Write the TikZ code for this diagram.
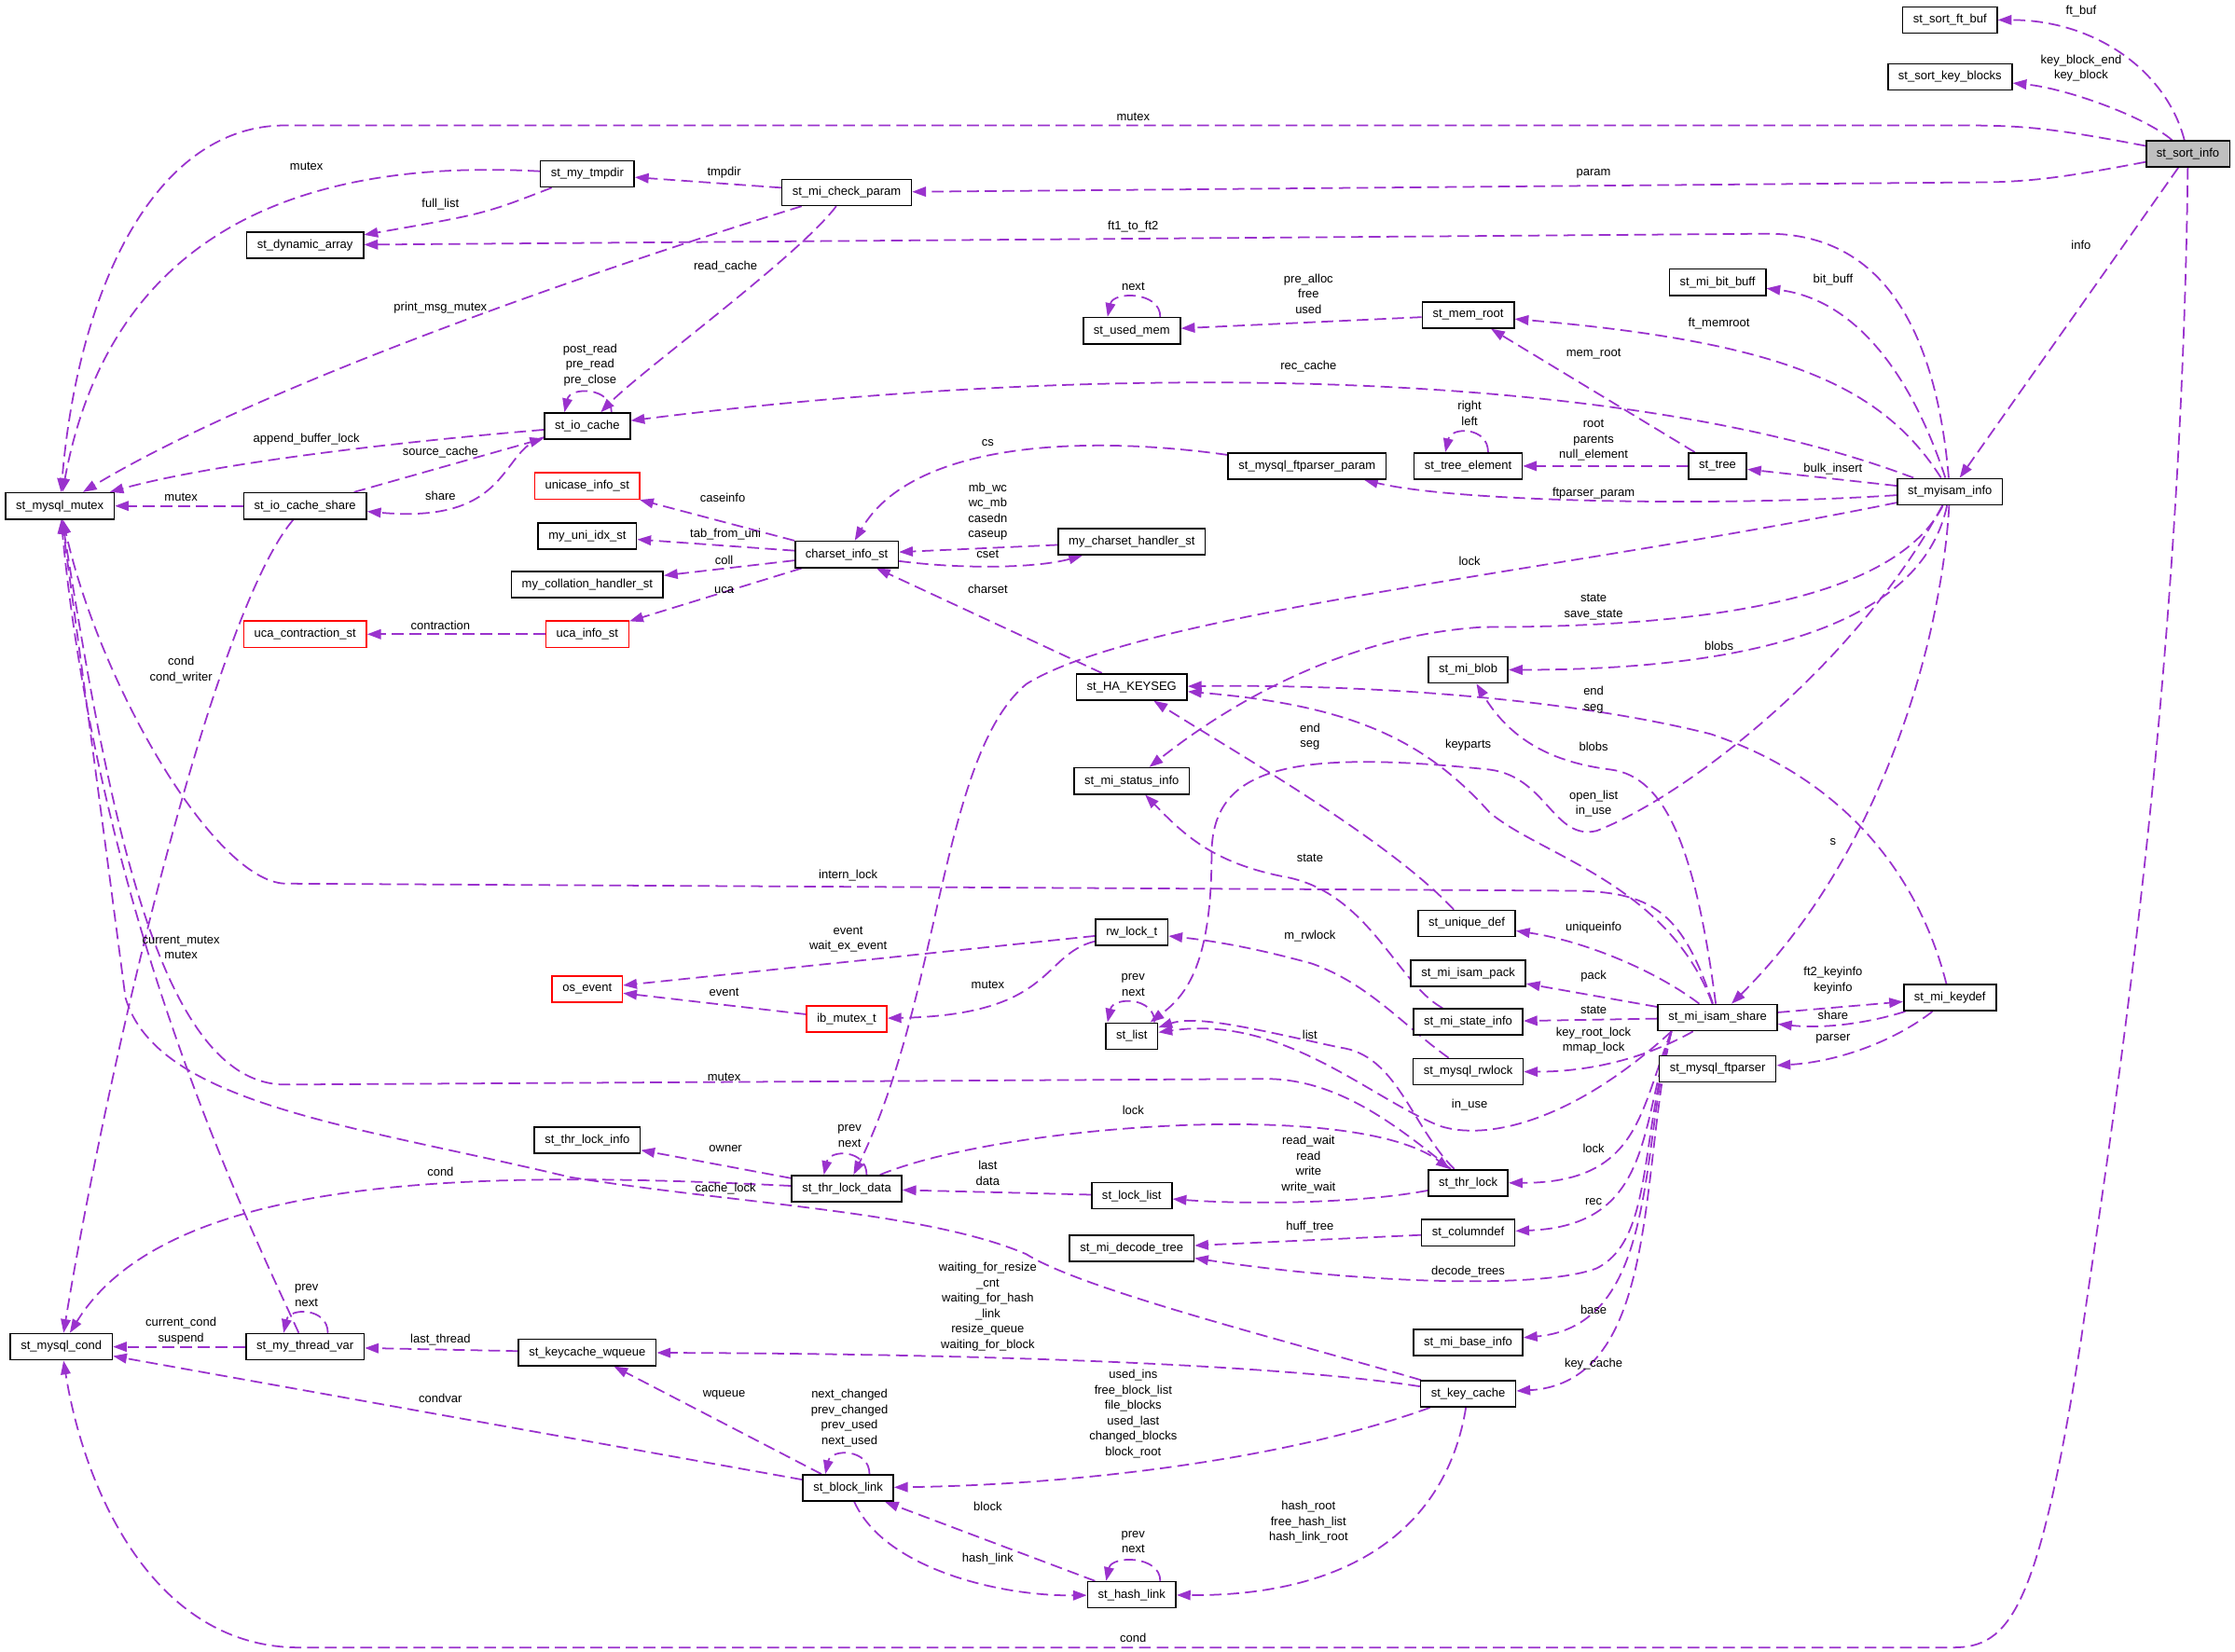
\documentclass[tikz,border=0pt]{standalone}
\usepackage{fontspec}
\setmainfont{Liberation Sans}
\usetikzlibrary{arrows.meta,calc}
\definecolor{orchid}{HTML}{9A32CD}
\definecolor{mainbox}{HTML}{BFBFBF}
\pgfdeclarelayer{edges}
\pgfsetlayers{edges,main}

\begin{document}
\begin{tikzpicture}[x=0.15287mm,y=-0.15287mm,
 n/.style={draw=black,line width=.45pt,fill=white,font=\fontsize{3.7}{4.5}\selectfont,inner xsep=3.2pt,inner ysep=0pt,minimum height=8pt},
 nr/.style={n,draw=red},
 lab/.style={font=\fontsize{3.7}{4.7}\selectfont,align=center,inner sep=0pt},
 a/.style={-{Triangle[length=4.2pt,width=3pt]},draw=orchid,line width=.5pt,dash pattern=on 3.6pt off 1.8pt}]
\useasboundingbox (0,0) rectangle (1568,1159);

% structs
\node[n] (sortftbuf) at (1368,14) {st\_sort\_ft\_buf};
\node[n] (sortkeyblocks) at (1368,54) {st\_sort\_key\_blocks};
\node[n,fill=mainbox] (sortinfo) at (1535,108) {st\_sort\_info};
\node[n] (mytmpdir) at (412,122) {st\_my\_tmpdir};
\node[n] (checkparam) at (594,135) {st\_mi\_check\_param};
\node[n] (dynarray) at (214,172) {st\_dynamic\_array};
\node[n] (usedmem) at (794,232) {st\_used\_mem};
\node[n] (memroot) at (1030,221) {st\_mem\_root};
\node[n] (bitbuff) at (1205,198) {st\_mi\_bit\_buff};
\node[n] (iocache) at (412,299) {st\_io\_cache};
\node[n] (mutex) at (42,355) {st\_mysql\_mutex};
\node[n] (iocacheshare) at (214,355) {st\_io\_cache\_share};
\node[nr] (unicase) at (412,341) {unicase\_info\_st};
\node[n] (uniidx) at (412,376) {my\_uni\_idx\_st};
\node[n] (collhandler) at (412,410) {my\_collation\_handler\_st};
\node[nr] (ucacontr) at (214,445) {uca\_contraction\_st};
\node[nr] (ucainfo) at (412,445) {uca\_info\_st};
\node[n] (charsetinfo) at (594,389) {charset\_info\_st};
\node[n] (charsethandler) at (794,380) {my\_charset\_handler\_st};
\node[n] (ftparam) at (917,327) {st\_mysql\_ftparser\_param};
\node[n] (treeelem) at (1030,327) {st\_tree\_element};
\node[n] (tree) at (1205,327) {st\_tree};
\node[n] (myisaminfo) at (1368,345) {st\_myisam\_info};
\node[n] (hakeyseg) at (794,482) {st\_HA\_KEYSEG};
\node[n] (miblob) at (1030,470) {st\_mi\_blob};
\node[n] (statusinfo) at (794,548) {st\_mi\_status\_info};
\node[nr] (osevent) at (412,694) {os\_event};
\node[n] (rwlock) at (794,654) {rw\_lock\_t};
\node[nr] (ibmutex) at (594,715) {ib\_mutex\_t};
\node[n] (stlist) at (794,727) {st\_list};
\node[n] (uniquedef) at (1029,648) {st\_unique\_def};
\node[n] (isampack) at (1030,683) {st\_mi\_isam\_pack};
\node[n] (stateinfo) at (1030,717) {st\_mi\_state\_info};
\node[n] (mysqlrwlock) at (1030,752) {st\_mysql\_rwlock};
\node[n] (isamshare) at (1205,714) {st\_mi\_isam\_share};
\node[n] (keydef) at (1368,700) {st\_mi\_keydef};
\node[n] (ftparser) at (1205,750) {st\_mysql\_ftparser};
\node[n] (thrlockinfo) at (412,800) {st\_thr\_lock\_info};
\node[n] (thrlockdata) at (594,834) {st\_thr\_lock\_data};
\node[n] (locklist) at (794,839) {st\_lock\_list};
\node[n] (thrlock) at (1030,830) {st\_thr\_lock};
\node[n] (columndef) at (1030,865) {st\_columndef};
\node[n] (decodetree) at (794,876) {st\_mi\_decode\_tree};
\node[n] (baseinfo) at (1030,942) {st\_mi\_base\_info};
\node[n] (keycache) at (1030,978) {st\_key\_cache};
\node[n] (cond) at (43,945) {st\_mysql\_cond};
\node[n] (threadvar) at (214,945) {st\_my\_thread\_var};
\node[n] (wqueue) at (412,949) {st\_keycache\_wqueue};
\node[n] (blocklink) at (595,1044) {st\_block\_link};
\node[n] (hashlink) at (794,1119) {st\_hash\_link};

\begin{pgfonlayer}{edges}
\fill[white] (0,0) rectangle (1568,1159);
% st_sort_info
\draw[a] (sortinfo) .. controls (1520,50) and (1470,14) .. (sortftbuf);
\draw[a] (sortinfo) .. controls (1505,82) and (1450,62) .. (sortkeyblocks);
\draw[a] (sortinfo) .. controls (1440,90) and (1420,88) .. (1378,88) -- (200,88) .. controls (110,88) and (55,200) .. (mutex);
\draw[a] (sortinfo) .. controls (1440,126) and (1420,128) .. (1378,128) -- (checkparam);
\draw[a] (sortinfo) -- (myisaminfo);
\draw[a] (sortinfo) .. controls (1530,500) and (1480,800) .. (1460,940) .. controls (1430,1130) and (1410,1156) .. (1370,1156) -- (210,1156) .. controls (110,1156) and (60,1050) .. (cond);
\draw[a] (checkparam) -- (mytmpdir);
\draw[a] (checkparam) .. controls (480,170) and (200,260) .. (mutex);
\draw[a] (checkparam) .. controls (560,180) and (450,260) .. (iocache);
\draw[a] (mytmpdir) .. controls (230,112) and (80,150) .. (mutex);
\draw[a] (mytmpdir) .. controls (340,150) .. (dynarray);

% st_myisam_info
\draw[a] (myisaminfo) .. controls (1358,230) and (1320,164) .. (1240,164) -- (dynarray);
\draw[a] (myisaminfo) .. controls (1340,260) and (1300,210) .. (bitbuff);
\draw[a] (myisaminfo) .. controls (1320,270) and (1250,240) .. (memroot);
\draw[a] (myisaminfo) .. controls (1150,262) and (800,250) .. (iocache);
\draw[a] (myisaminfo) -- (tree);
\draw[a] (myisaminfo) .. controls (1200,356) and (1020,352) .. (ftparam);
\draw[a] (myisaminfo) .. controls (1100,400) and (800,430) .. (720,480) .. controls (660,530) and (660,700) .. (thrlockdata);
\draw[a] (myisaminfo) .. controls (1330,420) and (1200,440) .. (1040,440) .. controls (960,445) and (880,480) .. (statusinfo);
\draw[a] (myisaminfo) .. controls (1350,430) and (1250,470) .. (miblob);
\draw[a] (myisaminfo) .. controls (1300,470) and (1180,560) .. (1120,583) .. controls (1090,590) and (1085,545) .. (1045,540) .. controls (900,525) and (850,540) .. (850,600) .. controls (850,680) and (830,700) .. (stlist);
\draw[a] (myisaminfo) .. controls (1362,450) and (1320,600) .. (isamshare);
\draw[a] (memroot) -- (usedmem);
\draw[a] ($(usedmem.north)+(20,0)$) .. controls +(0,-18) and +(4,-18) .. ($(usedmem.north)+(-17,0)$);
\draw[a] (tree) -- (memroot);
\draw[a] (tree) -- (treeelem);
\draw[a] ($(treeelem.north)+(14,0)$) .. controls +(0,-18) and +(4,-18) .. ($(treeelem.north)+(-16,0)$);

% io cache
\draw[a] ($(iocache.north)+(17,0)$) .. controls +(0,-18) and +(4,-18) .. ($(iocache.north)+(-16,0)$);
\draw[a] (iocache) .. controls (280,310) and (150,325) .. (mutex);
\draw[a] (iocache) .. controls (350,315) and (360,368) .. (iocacheshare);
\draw[a] (iocacheshare) -- (iocache);
\draw[a] (iocacheshare) -- (mutex);
\draw[a] (iocacheshare) .. controls (150,430) and (75,750) .. (cond);

% charset
\draw[a] (ftparam) .. controls (760,305) and (640,310) .. (charsetinfo);
\draw[a] (charsetinfo) -- (unicase);
\draw[a] (charsetinfo) -- (uniidx);
\draw[a] (charsetinfo) -- (collhandler);
\draw[a] (charsetinfo) -- (ucainfo);
\draw[a] (charsetinfo) .. controls (680,400) and (730,398) .. (charsethandler);
\draw[a] (charsethandler) -- (charsetinfo);
\draw[a] (ucainfo) -- (ucacontr);
\draw[a] (hakeyseg) -- (charsetinfo);

% keysegs, share
\draw[a] (keydef) .. controls (1345,610) and (1290,545) .. (1200,515) .. controls (1100,490) and (960,480) .. (hakeyseg);
\draw[a] (uniquedef) .. controls (975,590) and (870,530) .. (hakeyseg);
\draw[a] (isamshare) .. controls (1170,620) and (1080,600) .. (1045,570) .. controls (1000,520) and (950,495) .. (hakeyseg);
\draw[a] (isamshare) .. controls (1190,600) and (1170,545) .. (1130,540) .. controls (1090,535) and (1060,520) .. (miblob);
\draw[a] (isamshare) .. controls (1180,640) and (1160,625) .. (1100,625) -- (200,620) .. controls (150,618) and (70,480) .. (mutex);
\draw[a] (isamshare) .. controls (1160,680) and (1110,660) .. (uniquedef);
\draw[a] (isamshare) -- (isampack);
\draw[a] (isamshare) -- (stateinfo);
\draw[a] (isamshare) .. controls (1150,745) and (1110,752) .. (mysqlrwlock);
\draw[a] (isamshare) -- (keydef);
\draw[a] (keydef) .. controls (1310,718) and (1280,722) .. (isamshare);
\draw[a] (keydef) .. controls (1330,730) and (1290,745) .. (ftparser);
\draw[a] ($(isamshare.south west)+(10,0)$) .. controls (1150,780) and (1150,830) .. (thrlock);
\draw[a] ($(isamshare.south west)+(10,0)$) .. controls (1150,790) and (1160,860) .. (columndef);
\draw[a] ($(isamshare.south west)+(10,0)$) .. controls (1150,800) and (1160,870) .. (1120,890) .. controls (1080,905) and (950,900) .. (decodetree);
\draw[a] ($(isamshare.south west)+(10,0)$) .. controls (1150,800) and (1165,930) .. (baseinfo);
\draw[a] ($(isamshare.south west)+(10,0)$) .. controls (1150,820) and (1165,970) .. (keycache);
\draw[a] ($(isamshare.south west)+(10,0)$) .. controls (1100,790) and (1040,800) .. (1010,790) .. controls (960,770) and (900,712) .. (stlist);
\draw[a] (stateinfo) .. controls (980,690) and (960,625) .. (900,615) .. controls (850,605) and (830,585) .. (statusinfo);
\draw[a] (mysqlrwlock) .. controls (985,720) and (960,690) .. (920,676) .. controls (880,665) and (850,660) .. (rwlock);
\draw[a] (rwlock) -- (osevent);
\draw[a] (rwlock) .. controls (730,670) and (740,712) .. (ibmutex);
\draw[a] (ibmutex) -- (osevent);
\draw[a] ($(stlist.north)+(16,0)$) .. controls +(0,-18) and +(4,-18) .. ($(stlist.north)+(-17,0)$);
\draw[a] (thrlock) .. controls (990,790) and (980,740) .. (940,735) .. controls (880,722) and (840,712) .. (stlist);

% thr lock
\draw[a] (thrlockdata) -- (thrlockinfo);
\draw[a] (thrlockdata) .. controls (350,822) and (120,820) .. (cond);
\draw[a] ($(thrlockdata.north)+(14,0)$) .. controls +(0,-18) and +(4,-18) .. ($(thrlockdata.north)+(-16,0)$);
\draw[a] (thrlockdata) .. controls (700,790) and (950,770) .. (thrlock);
\draw[a] (thrlock) .. controls (950,845) and (870,845) .. (locklist);
\draw[a] (locklist) -- (thrlockdata);
\draw[a] (thrlock) .. controls (980,790) and (940,758) .. (890,757) -- (200,761) .. controls (110,761) and (75,560) .. (mutex);
\draw[a] (columndef) -- (decodetree);

% key cache
\draw[a] (keycache) .. controls (900,940) and (760,905) .. (720,880) .. controls (650,850) and (520,845) .. (400,826) .. controls (250,790) and (110,775) .. (88,700) .. controls (75,600) and (55,450) .. (mutex);
\draw[a] (keycache) .. controls (900,958) and (700,950) .. (wqueue);
\draw[a] (keycache) .. controls (900,1025) and (750,1042) .. (blocklink);
\draw[a] (keycache) .. controls (1015,1070) and (950,1120) .. (hashlink);
\draw[a] (threadvar) .. controls (180,870) and (70,650) .. (mutex);
\draw[a] ($(threadvar.north)+(16,0)$) .. controls +(0,-18) and +(4,-18) .. ($(threadvar.north)+(-15,0)$);
\draw[a] (threadvar) -- (cond);
\draw[a] (wqueue) -- (threadvar);
\draw[a] (blocklink) -- (wqueue);
\draw[a] (blocklink) -- (cond);
\draw[a] ($(blocklink.north)+(15,0)$) .. controls +(0,-18) and +(4,-18) .. ($(blocklink.north)+(-16,0)$);
\draw[a] (hashlink) -- (blocklink);
\draw[a] (blocklink) .. controls (620,1100) and (700,1120) .. (hashlink);
\draw[a] ($(hashlink.north)+(20,0)$) .. controls +(0,-18) and +(4,-18) .. ($(hashlink.north)+(-18,0)$);
\end{pgfonlayer}

% member names
\node[lab] (l-ftbuf) at (1460,8) {ft\_buf};
\node[lab] (l-keyblock) at (1460,48) {key\_block\_end\\key\_block};
\node[lab] (l-mutex1) at (795,82) {mutex};
\node[lab] (l-param) at (1118,122) {param};
\node[lab] (l-info) at (1460,172) {info};
\node[lab] (l-mutex2) at (215,117) {mutex};
\node[lab] (l-tmpdir) at (508,121) {tmpdir};
\node[lab] (l-fulllist) at (309,143) {full\_list};
\node[lab] (l-ft1) at (795,159) {ft1\_to\_ft2};
\node[lab] (l-printmsg) at (309,216) {print\_msg\_mutex};
\node[lab] (l-readcache) at (509,187) {read\_cache};
\node[lab] (l-bitbuff) at (1286,196) {bit\_buff};
\node[lab] (l-next1) at (795,201) {next};
\node[lab] (l-prealloc) at (918,206) {pre\_alloc\\free\\used};
\node[lab] (l-ftmemroot) at (1206,227) {ft\_memroot};
\node[lab] (l-memroot) at (1118,248) {mem\_root};
\node[lab] (l-postread) at (414,256) {post\_read\\pre\_read\\pre\_close};
\node[lab] (l-reccache) at (918,257) {rec\_cache};
\node[lab] (l-right) at (1031,290) {right\\left};
\node[lab] (l-append) at (215,308) {append\_buffer\_lock};
\node[lab] (l-source) at (309,317) {source\_cache};
\node[lab] (l-root) at (1118,309) {root\\parents\\null\_element};
\node[lab] (l-cs) at (693,311) {cs};
\node[lab] (l-bulk) at (1286,329) {bulk\_insert};
\node[lab] (l-share1) at (309,348) {share};
\node[lab] (l-mutex3) at (127,349) {mutex};
\node[lab] (l-caseinfo) at (507,349) {caseinfo};
\node[lab] (l-ftpparam) at (1118,346) {ftparser\_param};
\node[lab] (l-mbwc) at (693,359) {mb\_wc\\wc\_mb\\casedn\\caseup};
\node[lab] (l-tabfrom) at (509,375) {tab\_from\_uni};
\node[lab] (l-cset) at (693,389) {cset};
\node[lab] (l-coll) at (508,393) {coll};
\node[lab] (l-lock1) at (1031,394) {lock};
\node[lab] (l-uca) at (508,414) {uca};
\node[lab] (l-charset) at (693,413) {charset};
\node[lab] (l-state1) at (1118,426) {state\\save\_state};
\node[lab] (l-contr) at (309,439) {contraction};
\node[lab] (l-cond1) at (127,470) {cond\\cond\_writer};
\node[lab] (l-blobs1) at (1206,453) {blobs};
\node[lab] (l-endseg1) at (1118,491) {end\\seg};
\node[lab] (l-keyparts) at (1030,523) {keyparts};
\node[lab] (l-endseg2) at (919,517) {end\\seg};
\node[lab] (l-blobs2) at (1118,524) {blobs};
\node[lab] (l-openlist) at (1118,564) {open\_list\\in\_use};
\node[lab] (l-s) at (1286,591) {s};
\node[lab] (l-state2) at (919,602) {state};
\node[lab] (l-intern) at (595,614) {intern\_lock};
\node[lab] (l-unique) at (1118,651) {uniqueinfo};
\node[lab] (l-curmutex) at (127,665) {current\_mutex\\mutex};
\node[lab] (l-event1) at (595,659) {event\\wait\_ex\_event};
\node[lab] (l-mrwlock) at (919,657) {m\_rwlock};
\node[lab] (l-pack) at (1118,685) {pack};
\node[lab] (l-prev1) at (795,691) {prev\\next};
\node[lab] (l-mutex4) at (693,691) {mutex};
\node[lab] (l-event2) at (508,696) {event};
\node[lab] (l-keyinfo) at (1286,688) {ft2\_keyinfo\\keyinfo};
\node[lab] (l-state3) at (1118,709) {state};
\node[lab] (l-share2) at (1286,712) {share};
\node[lab] (l-list) at (919,726) {list};
\node[lab] (l-keyroot) at (1118,730) {key\_root\_lock\\mmap\_lock};
\node[lab] (l-parser) at (1286,729) {parser};
\node[lab] (l-mutex5) at (508,756) {mutex};
\node[lab] (l-inuse) at (1031,775) {in\_use};
\node[lab] (l-lock2) at (795,779) {lock};
\node[lab] (l-prev2) at (596,797) {prev\\next};
\node[lab] (l-owner) at (509,806) {owner};
\node[lab] (l-lock3) at (1118,806) {lock};
\node[lab] (l-readwait) at (918,817) {read\_wait\\read\\write\\write\_wait};
\node[lab] (l-last) at (693,823) {last\\data};
\node[lab] (l-cond2) at (309,822) {cond};
\node[lab] (l-cachelock) at (509,834) {cache\_lock};
\node[lab] (l-rec) at (1118,843) {rec};
\node[lab] (l-hufftree) at (919,861) {huff\_tree};
\node[lab] (l-decode) at (1030,892) {decode\_trees};
\node[lab] (l-waiting) at (693,917) {waiting\_for\_resize\\\_cnt\\waiting\_for\_hash\\\_link\\resize\_queue\\waiting\_for\_block};
\node[lab] (l-base) at (1118,919) {base};
\node[lab] (l-curcond) at (127,934) {current\_cond\\suspend};
\node[lab] (l-prev3) at (215,909) {prev\\next};
\node[lab] (l-lastthread) at (309,940) {last\_thread};
\node[lab] (l-keycache) at (1118,957) {key\_cache};
\node[lab] (l-usedins) at (795,992) {used\_ins\\free\_block\_list\\file\_blocks\\used\_last\\changed\_blocks\\block\_root};
\node[lab] (l-condvar) at (309,981) {condvar};
\node[lab] (l-wqueue) at (508,979) {wqueue};
\node[lab] (l-nextchanged) at (596,995) {next\_changed\\prev\_changed\\prev\_used\\next\_used};
\node[lab] (l-block) at (693,1057) {block};
\node[lab] (l-hashroot) at (918,1068) {hash\_root\\free\_hash\_list\\hash\_link\_root};
\node[lab] (l-prev4) at (795,1082) {prev\\next};
\node[lab] (l-hashlink) at (693,1094) {hash\_link};
\node[lab] (l-cond3) at (795,1149) {cond};
\end{tikzpicture}
\end{document}
